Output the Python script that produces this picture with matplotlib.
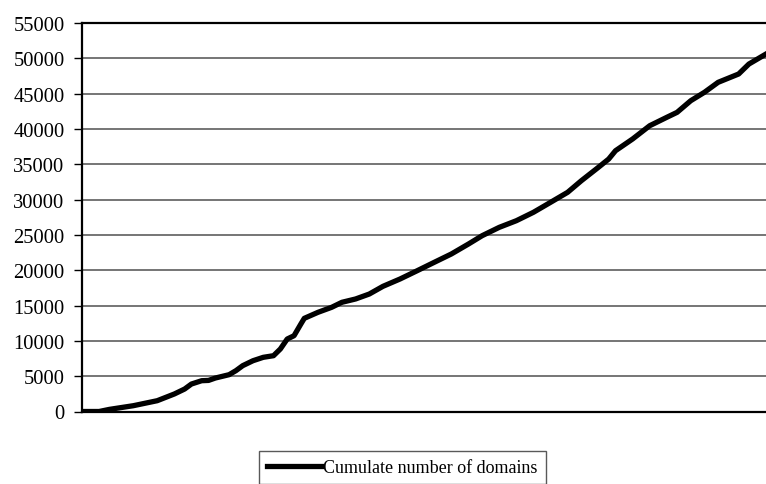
import matplotlib
matplotlib.use("Agg")
import matplotlib.pyplot as plt
from matplotlib.ticker import MultipleLocator

periods = [0, 5, 8, 15, 22, 27, 30, 32, 35, 37, 39, 43, 45, 47, 50, 53, 56, 58, 60, 62,
           64, 65, 69, 73, 76, 80, 84, 88, 93, 98, 103, 108, 113, 117, 122, 127, 132, 137,
           142, 146, 151, 154, 156, 161, 166, 171, 174, 178, 182, 186, 192, 195, 200]
domains = [0, 0, 300, 820, 1530, 2480, 3180, 3890, 4360, 4400, 4740, 5210, 5780, 6490,
           7190, 7670, 7900, 8850, 10260, 10730, 12390, 13190, 14040, 14750, 15460, 15930,
           16630, 17720, 18760, 19930, 21120, 22300, 23710, 24890, 26070, 27010, 28200,
           29610, 31030, 32670, 34570, 35740, 36920, 38580, 40460, 41650, 42350, 44000,
           45190, 46600, 47780, 49190, 50610]
series_label = "Cumulate number of domains"

plt.rcParams['font.family'] = ['Liberation Serif', 'DejaVu Serif']

fig = plt.figure(figsize=(7.66, 4.85), dpi=100)
ax = fig.add_axes([82/766, 1-412.5/485, 1-82/766, (412.5-24)/485])

ax.plot(periods, domains, color='black', linewidth=3.8, solid_joinstyle='round',
        label=series_label, zorder=3)

ax.set_xlim(0, 200)
ax.set_ylim(0, 55000)
ax.yaxis.set_major_locator(MultipleLocator(5000))
ax.set_xticks([])
ax.grid(axis='y', color='#505050', linewidth=1.1)
ax.set_axisbelow(True)

for s in ['left', 'bottom', 'top']:
    ax.spines[s].set_linewidth(1.6)
    ax.spines[s].set_color('black')
ax.spines['right'].set_visible(False)
ax.tick_params(axis='y', direction='out', length=5.5, width=1.0, labelsize=14.8, pad=7)

leg = fig.legend(loc='upper left', bbox_to_anchor=(259/766, 1-452/485),
                 frameon=True, fancybox=False, edgecolor='#303030', fontsize=13,
                 handlelength=3.0, handletextpad=0.1, borderpad=0.45,
                 borderaxespad=0)
leg.get_frame().set_linewidth(1.0)

fig.savefig("out.png", dpi=100)
